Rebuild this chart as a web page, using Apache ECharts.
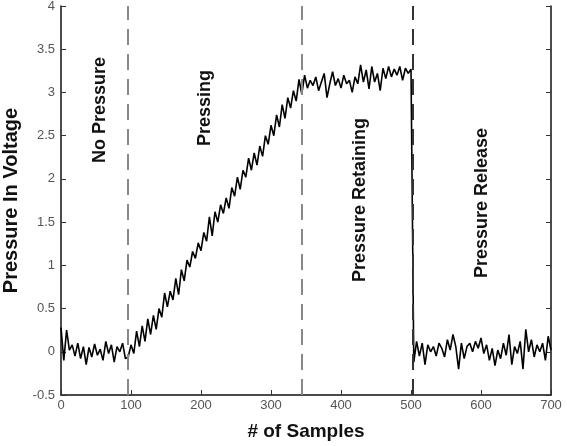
<!DOCTYPE html>
<html>
<head>
<meta charset="utf-8">
<script src="https://cdn.jsdelivr.net/npm/echarts@6/dist/echarts.min.js"></script>
<style>
  html, body { margin: 0; padding: 0; background: #fff; }
  #main { width: 567px; height: 446px; }
</style>
</head>
<body>
<div id="main"></div>
<script>
// one reading every 4 samples
const sampleStep = 4
const noPressure = [0.28, -0.1, 0.25, 0.02, 0.08, -0.05, 0.1, -0.08, 0.06, -0.15, 0.05, -0.06,
  0.09, -0.04, 0.03, -0.1, 0.12, -0.02, 0.08, -0.12, 0.06, 0.0, 0.1, -0.08]
const pressing = [-0.06, 0.08, -0.02, 0.24, 0.06, 0.3, 0.12, 0.38, 0.2, 0.42,
  0.26, 0.5, 0.4, 0.68, 0.52, 0.7, 0.6, 0.85, 0.66, 0.95,
  0.82, 1.06, 0.98, 1.16, 1.08, 1.26, 1.17, 1.38, 1.28, 1.56,
  1.34, 1.62, 1.5, 1.7, 1.6, 1.78, 1.66, 1.9, 1.8, 2.02,
  1.88, 2.1, 2.02, 2.24, 2.1, 2.3, 2.16, 2.38, 2.26, 2.5,
  2.4, 2.62, 2.5, 2.74, 2.6, 2.86, 2.7, 2.94, 2.82, 3.02,
  2.9, 3.15, 2.98]
const retaining = [3.2, 3.05, 3.14, 3.08, 3.18, 3.02, 3.12, 3.22, 2.94, 3.1,
  3.24, 3.08, 3.16, 3.05, 3.2, 3.1, 3.14, 3.0, 3.18, 3.1,
  3.32, 3.12, 3.26, 3.04, 3.3, 3.12, 3.22, 3.02, 3.28, 3.16,
  3.3, 3.18, 3.27, 3.2, 3.3, 3.14, 3.28, 3.22, 3.27]
const release = [-0.12, 0.12, -0.05, 0.1, -0.15, 0.08, 0.0, 0.06, -0.05, 0.1,
  0.04, -0.06, 0.14, 0.02, 0.2, 0.06, -0.2, 0.1, -0.08, 0.06,
  0.1, 0.0, 0.12, 0.04, 0.16, -0.02, 0.08, -0.1, 0.04, -0.16,
  0.02, -0.08, 0.1, -0.04, 0.2, -0.15, 0.06, -0.02, 0.12, -0.2,
  0.26, 0.0, 0.14, -0.06, 0.08, 0.0, 0.1, -0.1, 0.18, 0.02]

// phase boundaries (sample index) and the rotated labels
const dividers = [95, 344, 503]
const phaseLabels = ['No Pressure', 'Pressing', 'Pressure Retaining', 'Pressure Release']
const labelPos = [[100, 110], [205, 108], [360, 200], [482, 203]]

const voltage = noPressure.concat(pressing, retaining, release)
const points = voltage.map((v, i) => [i * sampleStep, v])

const myChart = echarts.init(document.getElementById('main'))
const font = 'Liberation Sans, Arial, sans-serif'

const option = {
  animation: false,
  grid: { left: 61, right: 16, top: 6, bottom: 51, containLabel: false, outerBoundsMode: 'none' },
  xAxis: {
    type: 'value', min: 0, max: 700, interval: 100,
    name: '# of Samples', nameLocation: 'middle', nameGap: 27,
    nameTextStyle: { fontFamily: font, fontSize: 19, fontWeight: 'bold', color: '#111' },
    axisLine: { onZero: false, lineStyle: { color: '#111', width: 1.5 } },
    axisTick: { inside: true, length: 5, lineStyle: { color: '#333' } },
    axisLabel: { color: '#555', fontFamily: font, fontSize: 13, margin: 4 },
    splitLine: { show: false }
  },
  yAxis: [
    {
      type: 'value', min: -0.5, max: 4, interval: 0.5,
      name: 'Pressure In Voltage', nameLocation: 'middle', nameGap: 34,
      nameTextStyle: { fontFamily: font, fontSize: 20, fontWeight: 'bold', color: '#111' },
      axisLine: { show: true, onZero: false, lineStyle: { color: '#111', width: 1.5 } },
      axisTick: { show: true, inside: true, length: 5, lineStyle: { color: '#333' } },
      axisLabel: { color: '#555', fontFamily: font, fontSize: 13, margin: 6 },
      splitLine: { show: false }
    },
    {
      type: 'value', min: -0.5, max: 4, interval: 0.5, position: 'right',
      axisLine: { show: true, onZero: false, lineStyle: { color: '#111', width: 1.5 } },
      axisTick: { show: true, inside: true, length: 5, lineStyle: { color: '#333' } },
      axisLabel: { show: false },
      splitLine: { show: false }
    }
  ],
  series: [
    {
      type: 'line',
      data: points,
      showSymbol: false,
      lineStyle: { color: '#000', width: 1.6 },
      z: 3,
      markLine: {
        silent: true,
        symbol: 'none',
        label: { show: false },
        data: dividers.map((d, i) => ({
          xAxis: d,
          lineStyle: { color: i === 2 ? '#333' : '#888', width: 2, type: [16, 9] }
        }))
      }
    }
  ],
  graphic: phaseLabels.map((t, i) => ({
    type: 'text',
    x: labelPos[i][0],
    y: labelPos[i][1],
    rotation: Math.PI / 2,
    style: {
      text: t,
      fill: '#111',
      font: 'bold 18px ' + font,
      textAlign: 'center',
      textVerticalAlign: 'middle'
    },
    z: 10
  }))
}

myChart.setOption(option)
</script>
</body>
</html>
